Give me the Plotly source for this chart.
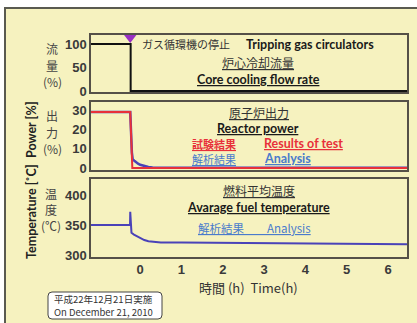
import plotly.graph_objects as go

W, H = 417, 323

# ---------------- data ----------------
x_ticks = [0, 1, 2, 3, 4, 5, 6]
flow_ticks = [0, 50, 100]
power_ticks = [0, 10, 20, 30]
temp_ticks = [300, 350, 400]

event_t = -0.24

flow_t = [-1.3, -0.23, -0.23, 6.6]
flow_v = [100, 100, 0, 0]

power_test_t = [-1.3, -0.24, -0.21, -0.19, 6.6]
power_test_v = [29, 29, 12, 0, 0]

power_ana_t = [-1.3, -0.24, -0.2, -0.18, -0.14, -0.1, -0.05, 0.0, 0.1, 0.2, 0.3, 0.5, 1.0, 6.6]
power_ana_v = [29, 29, 8, 4.5, 3.8, 3.0, 2.3, 1.7, 1.0, 0.6, 0.35, 0.2, 0.15, 0.1]

temp_t = [-1.3, -0.245, -0.24, -0.228, -0.21, -0.15, -0.1, 0.0, 0.1, 0.2, 0.3, 0.5,
          1.0, 1.5, 3.0, 4.5, 6.0, 6.6]
temp_v = [350, 350, 372, 340, 337, 334, 332, 328, 325, 323, 322, 321,
          320.7, 320.5, 320, 319, 318.3, 318]

# ---------------- style ----------------
RED = "#e8303a"
BLUE_LINE = "#4a42b8"
BLUE_TXT = "#4a7bcc"
DARK = "#333333"
FRAME_BG = "#f6f2bf"
PLOT_BG = "#f8f5cc"
AX = "#555048"

JP = "Noto Sans CJK JP"
EN = "Lato"
NUM = "Liberation Sans"


def px(x):
    return x / W


def py(y):
    return 1 - y / H


xd = [px(91), px(407)]
xr = [-1.19, 6.46]

fig = go.Figure()

fig.add_trace(go.Scatter(x=flow_t, y=flow_v, mode="lines", line=dict(color="#111", width=2),
                         xaxis="x", yaxis="y", showlegend=False, hoverinfo="skip"))
fig.add_trace(go.Scatter(x=[event_t], y=[116], mode="markers",
                         marker=dict(symbol="triangle-down", size=13, color="#9a2fc4"),
                         xaxis="x", yaxis="y", cliponaxis=False, showlegend=False, hoverinfo="skip"))
fig.add_trace(go.Scatter(x=power_ana_t, y=power_ana_v, mode="lines", line=dict(color=BLUE_LINE, width=2.5),
                         xaxis="x2", yaxis="y2", showlegend=False, hoverinfo="skip"))
fig.add_trace(go.Scatter(x=power_test_t, y=power_test_v, mode="lines", line=dict(color=RED, width=2),
                         xaxis="x2", yaxis="y2", showlegend=False, hoverinfo="skip"))
fig.add_trace(go.Scatter(x=temp_t, y=temp_v, mode="lines", line=dict(color=BLUE_LINE, width=2),
                         xaxis="x3", yaxis="y3", showlegend=False, hoverinfo="skip"))

tickfont = dict(family=NUM, size=13, color="#3a3a3a", weight="bold")
axcommon = dict(showline=True, mirror=True, linecolor=AX, linewidth=1.5, showgrid=False,
                zeroline=False, ticks="", fixedrange=True, automargin=False)

fig.update_layout(
    width=W, height=H,
    margin=dict(l=0, r=0, t=0, b=0),
    paper_bgcolor="white",
    plot_bgcolor=PLOT_BG,
    xaxis=dict(domain=xd, range=xr, showticklabels=False, anchor="y", **axcommon),
    xaxis2=dict(domain=xd, range=xr, showticklabels=False, anchor="y2", **axcommon),
    xaxis3=dict(domain=xd, range=xr, tickvals=x_ticks, tickfont=tickfont, anchor="y3", **axcommon),
    yaxis=dict(domain=[py(92), py(35)], range=[-2, 119], tickvals=flow_ticks, tickfont=tickfont,
               anchor="x", **axcommon),
    yaxis2=dict(domain=[py(170), py(102)], range=[-1, 34.1], tickvals=power_ticks, tickfont=tickfont,
                anchor="x2", **axcommon),
    yaxis3=dict(domain=[py(257), py(179)], range=[296.7, 426.7], tickvals=temp_ticks, tickfont=tickfont,
                anchor="x3", **axcommon),
)

# frame
shapes = [dict(type="rect", xref="paper", yref="paper", x0=px(5), x1=1.2, y0=-0.2, y1=py(8),
               fillcolor=FRAME_BG, line=dict(color="#5a5a50", width=2), layer="below")]

# rounded date box
bx0, bx1, by0, by1, r = 48, 162, 292, 319, 4
path = (f"M {px(bx0 + r)},{py(by0)} L {px(bx1 - r)},{py(by0)} Q {px(bx1)},{py(by0)} {px(bx1)},{py(by0 + r)} "
        f"L {px(bx1)},{py(by1 - r)} Q {px(bx1)},{py(by1)} {px(bx1 - r)},{py(by1)} "
        f"L {px(bx0 + r)},{py(by1)} Q {px(bx0)},{py(by1)} {px(bx0)},{py(by1 - r)} "
        f"L {px(bx0)},{py(by0 + r)} Q {px(bx0)},{py(by0)} {px(bx0 + r)},{py(by0)} Z")
shapes.append(dict(type="path", xref="paper", yref="paper", path=path, fillcolor="white",
                   line=dict(color="#444", width=1)))
fig.update_layout(shapes=shapes)

ann = []


def A(text, x, y, size=12, color=DARK, family=JP, bold=False, xanchor="center", angle=0):
    ann.append(dict(text=text, x=px(x), y=py(y), xref="paper", yref="paper", showarrow=False,
                    xanchor=xanchor, yanchor="middle", textangle=angle,
                    font=dict(family=family, size=size, color=color, weight="bold" if bold else "normal")))


# panel 1
A("ガス循環機の停止", 140, 44, 11, xanchor="left")
A("Tripping gas circulators", 244, 44, 12.5, bold=True, family=EN, xanchor="left", color="#1a1a1a")
A("<u>炉心冷却流量</u>", 258, 62, 12)
A("<u>Core cooling flow rate</u>", 258, 80, 12.5, bold=True, family=EN, color="#1a1a1a")
# panel 2
A("<u>原子炉出力</u>", 259, 112, 12)
A("<u>Reactor power</u>", 258, 128, 12.5, bold=True, family=EN, color="#1a1a1a")
A("<u>試験結果</u>", 190, 143.5, 11, color=RED, bold=True, xanchor="left")
A("<u>Results of test</u>", 262, 143.5, 12.5, color=RED, bold=True, family=EN, xanchor="left")
A("<u>解析結果</u>", 190, 158.5, 11, color=BLUE_TXT, xanchor="left")
A("<u>Analysis</u>", 262, 158.5, 12.5, color=BLUE_TXT, bold=True, family=EN, xanchor="left")
# panel 3
A("<u>燃料平均温度</u>", 259, 190, 12)
A("<u>Avarage fuel temperature</u>", 258, 207, 12.5, bold=True, family=EN, color="#1a1a1a")
A("<u>解析結果　　Analysis</u>", 196, 228, 11.5, color=BLUE_TXT, xanchor="left")

# left labels (stacked vertically)
for t, yy in [("流", 49), ("量", 65), ("(%)", 81)]:
    A(t, 52, yy, 12, color="#444")
for t, yy in [("出", 116), ("力", 132), ("(%)", 148)]:
    A(t, 52, yy, 12, color="#444")
for t, yy in [("温", 193), ("度", 209), ("(℃)", 225)]:
    A(t, 51, yy, 12, color="#444")
A("Power [%]", 31, 130, 12.5, bold=True, family=EN, color="#222", angle=-90)
A("Temperature [˚C]", 31, 212, 12.5, bold=True, family=EN, color="#222", angle=-90)

# x title
A("時間 (h)  Time(h)", 249, 287, 13, color="#333")
# date box
A("平成22年12月21日実施", 52, 298.5, 9.5, color="#333", family=JP, xanchor="left")
A("On December 21, 2010", 52, 311.5, 9.5, color="#333", family=JP, xanchor="left")

fig.update_layout(annotations=ann)
fig.write_html("out.html", config={"displayModeBar": False},
               post_script="document.body.style.margin='0';")
